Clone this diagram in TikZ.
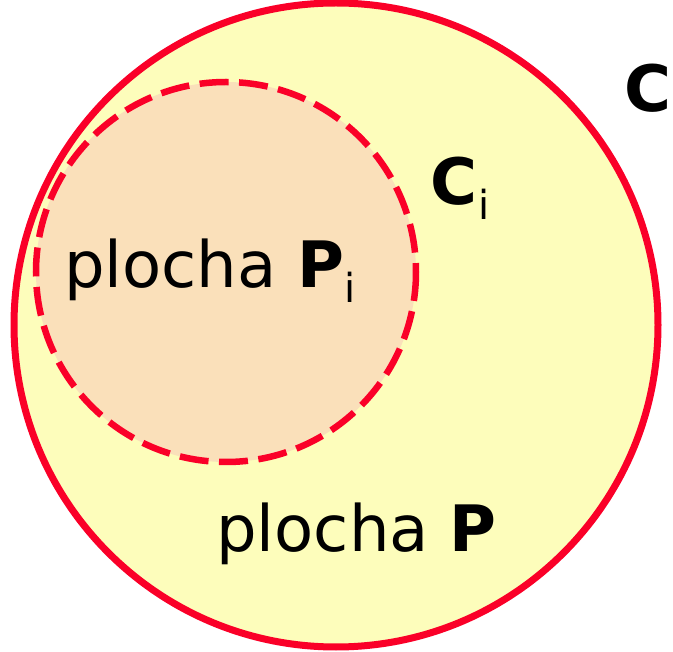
\documentclass[tikz,border=0pt]{standalone}
\usepackage{fontspec}
\setmainfont{DejaVu Sans}
\definecolor{cred}{RGB}{250,0,40}
\definecolor{cyellow}{RGB}{253,253,187}
\definecolor{cpeach}{RGB}{250,224,186}
\newcommand{\subi}{\raisebox{-15pt}{\fontsize{40}{40}\selectfont i}}
\begin{document}
\begin{tikzpicture}[x=1pt,y=-1pt,
  lbl/.style={font=\fontsize{64}{64}\selectfont, inner sep=0pt, anchor=base west, text=black}]
\useasboundingbox (0,0) rectangle (673,652);
\fill[cyellow] (336,325) circle[radius=322];
\draw[cred, line width=7pt] (336,325) circle[radius=322];
\fill[cpeach] (226,272) circle[radius=190];
\draw[cred, line width=6.5pt, dash pattern=on 29pt off 10.5pt] (226,272) circle[radius=190];
\node[lbl] (pi) at (64,288) {plocha \textbf{P}\kern1pt\subi};
\node[lbl] (p) at (216,552) {plocha \textbf{P}};
\node[lbl] (ci) at (430,205) {\textbf{C}\kern1pt\subi};
\node[lbl] (c) at (624,112) {\textbf{C}};
\end{tikzpicture}
\end{document}
